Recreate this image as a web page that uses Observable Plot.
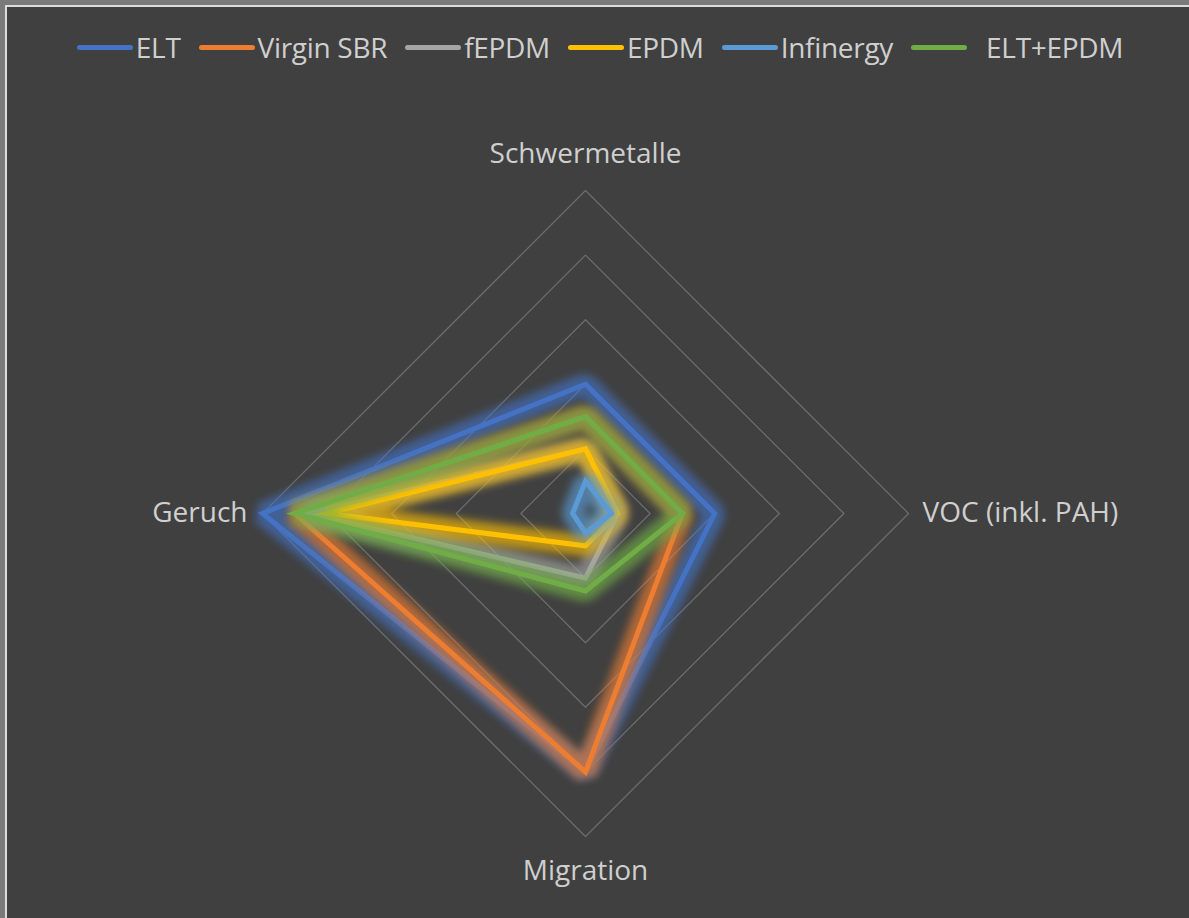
<!DOCTYPE html>
<html>
<head>
<meta charset="utf-8">
<script src="https://cdn.jsdelivr.net/npm/d3@7"></script>
<script src="https://cdn.jsdelivr.net/npm/@observablehq/plot@0.6"></script>
<style>
  html, body { margin: 0; padding: 0; }
  body { width: 1189px; height: 918px; background: #7a7a7a; overflow: hidden; position: relative;
         font-family: "Open Sans", "Noto Sans", sans-serif; }
  #panel { position: absolute; left: 5px; top: 5px; width: 1184px; height: 913px; background: #404040;
           border-left: 2px solid #dcdcdc; border-top: 2px solid #dcdcdc; box-sizing: border-box; }
  #legend { height: 80px; display: flex; align-items: center; justify-content: center; padding-left: 22px; box-sizing: border-box; }
  .item { display: flex; align-items: center; margin-right: 18px; color: #cfcfcf; font-size: 28px; letter-spacing: -0.3px; }
  .sw { width: 56px; height: 5px; border-radius: 3px; margin-right: 3px; }
  #chart svg { display: block; }
</style>
</head>
<body>
<div id="panel">
  <div id="legend"></div>
  <div id="chart"></div>
</div>
<script>
// ---- data ----
const axes = ["Schwermetalle", "VOC (inkl. PAH)", "Migration", "Geruch"];
const series = ["ELT", "Virgin SBR", "fEPDM", "EPDM", "Infinergy", "ELT+EPDM"];
const colors = ["#4472C4", "#ED7D31", "#A5A5A5", "#FFC000", "#5B9BD5", "#70AD47"];
const ELT       = [2.0, 2.0, 4.0, 5.0];
const virginSBR = [1.5, 1.5, 4.0, 4.5];
const fEPDM     = [1.0, 0.5, 1.0, 4.3];
const EPDM      = [1.0, 0.5, 0.5, 4.0];
const infinergy = [0.5, 0.4, 0.3, 0.2];
const eltEPDM   = [1.5, 1.5, 1.2, 4.5];
const values = [ELT, virginSBR, fEPDM, EPDM, infinergy, eltEPDM];
const rings = [1, 2, 3, 4, 5];
const maxValue = 5;

// ---- derived tables ----
const angle = i => (i * 2 * Math.PI) / axes.length;
const pts = series.flatMap((s, si) => values[si].map((v, i) => ({
  series: s, axis: axes[i], v, x: v * Math.sin(angle(i)), y: v * Math.cos(angle(i))
})));
const ringPts = rings.flatMap(r => axes.map((a, i) => ({ r, x: r * Math.sin(angle(i)), y: r * Math.cos(angle(i)) })));
const labelPts = axes.map((a, i) => ({ axis: a, x: maxValue * Math.sin(angle(i)), y: maxValue * Math.cos(angle(i)) }));

// ---- legend ----
const legend = document.getElementById("legend");
series.forEach((s, i) => {
  const it = document.createElement("div");
  it.className = "item";
  const sw = document.createElement("div");
  sw.className = "sw";
  sw.style.background = colors[i];
  if (i === series.length - 1) sw.style.marginRight = "19px";
  const t = document.createElement("span");
  t.textContent = s;
  it.append(sw, t);
  legend.append(it);
});

// ---- chart ----
const W = 1182, H = 831;
const cx = 578, cy = 426, R = 323;
const textFill = "#cfcfcf";
const labelStyle = { text: "axis", fill: textFill, fontSize: 28, fontFamily: "Open Sans" };

const seriesMarks = series.flatMap(s => {
  const d = pts.filter(p => p.series === s);
  return [
    Plot.line(d, { x: "x", y: "y", stroke: "series", curve: "linear-closed", strokeWidth: 22,
                   strokeOpacity: 0.65, strokeLinejoin: "miter", ariaDescription: "glow" }),
    Plot.line(d, { x: "x", y: "y", stroke: "series", curve: "linear-closed", strokeWidth: 5,
                   strokeLinejoin: "miter", strokeMiterlimit: 10 })
  ];
});

const chart = Plot.plot({
  width: W, height: H,
  marginLeft: cx - R, marginRight: W - cx - R,
  marginTop: cy - R, marginBottom: H - cy - R,
  x: { domain: [-maxValue, maxValue], axis: null },
  y: { domain: [-maxValue, maxValue], axis: null },
  color: { domain: series, range: colors },
  style: { background: "none", color: textFill, fontFamily: "Open Sans", overflow: "visible" },
  marks: [
    Plot.line(ringPts, { x: "x", y: "y", z: "r", curve: "linear-closed", stroke: "#6c6c6c", strokeWidth: 1.25 }),
    ...seriesMarks,
    Plot.text(labelPts.filter((d, i) => i === 0), { x: "x", y: "y", dy: -36, ...labelStyle }),
    Plot.text(labelPts.filter((d, i) => i === 1), { x: "x", y: "y", dx: 14, textAnchor: "start", ...labelStyle }),
    Plot.text(labelPts.filter((d, i) => i === 2), { x: "x", y: "y", dy: 35, ...labelStyle }),
    Plot.text(labelPts.filter((d, i) => i === 3), { x: "x", y: "y", dx: -15, textAnchor: "end", ...labelStyle })
  ]
});

const ns = "http://www.w3.org/2000/svg";
const defs = document.createElementNS(ns, "defs");
defs.innerHTML = `<filter id="glow" filterUnits="userSpaceOnUse" x="0" y="0" width="${W}" height="${H}"><feGaussianBlur stdDeviation="4.5"/></filter>`;
chart.prepend(defs);
chart.querySelectorAll('g[aria-description="glow"]').forEach(g => g.setAttribute("filter", "url(#glow)"));

document.getElementById("chart").append(chart);
</script>
</body>
</html>
